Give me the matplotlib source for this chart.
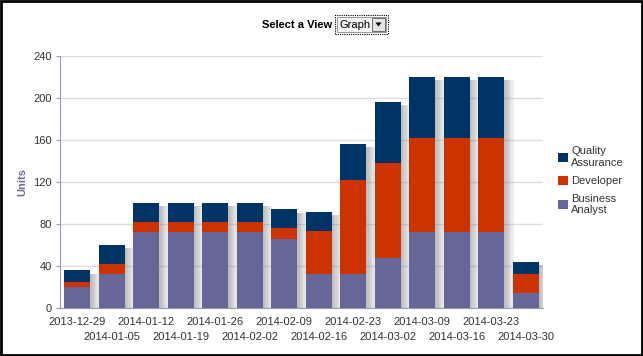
import matplotlib.pyplot as plt
import numpy as np
from matplotlib.patches import Rectangle, Polygon

plt.rcParams['font.family'] = ['Liberation Sans', 'DejaVu Sans']

weeks = ['2013-12-29', '2014-01-05', '2014-01-12', '2014-01-19', '2014-01-26',
         '2014-02-02', '2014-02-09', '2014-02-16', '2014-02-23', '2014-03-02',
         '2014-03-09', '2014-03-16', '2014-03-23', '2014-03-30']
business_analyst = [20, 33, 73, 73, 73, 73, 66, 33, 33, 48, 73, 73, 73, 15]
developer = [5, 9, 9, 9, 9, 9, 10, 41, 89, 90, 89, 89, 89, 18]
quality_assurance = [11, 18, 18, 18, 18, 18, 18, 18, 34, 58, 58, 58, 58, 11]

c_ba = '#666699'
c_dev = '#cc3300'
c_qa = '#003366'

fig = plt.figure(figsize=(6.43, 3.56), dpi=100)
ax = fig.add_axes([0.0933, 0.134, 0.751, 0.7087])

x = np.arange(len(weeks))
ba = np.array(business_analyst)
dev = np.array(developer)
qa = np.array(quality_assurance)
total = ba + dev + qa
w = 0.75

# soft drop shadow on the right of each bar
for i in range(8):
    ax.bar(x + 0.04 + i * 0.035, total - 3, w, color='#707070', alpha=0.07,
           linewidth=0, zorder=1)

ax.bar(x, ba, w, color=c_ba, label='Business\nAnalyst', zorder=3, linewidth=0)
ax.bar(x, dev, w, bottom=ba, color=c_dev, label='Developer', zorder=3, linewidth=0)
ax.bar(x, qa, w, bottom=ba + dev, color=c_qa, label='Quality\nAssurance', zorder=3,
       linewidth=0)

ax.set_xlim(-0.5, len(weeks) - 0.5)
ax.set_ylim(0, 240)
ax.set_yticks(range(0, 241, 40))
ax.grid(axis='y', color='#dcdce6', linewidth=1, zorder=0)
ax.set_axisbelow(True)

# staggered date labels: even weeks on the first row, odd weeks below
ax.set_xticks(x[::2])
ax.set_xticklabels(weeks[::2])
ax.set_xticks(x[1::2], minor=True)
ax.set_xticklabels(weeks[1::2], minor=True)
ax.tick_params(axis='x', which='major', length=0, pad=6, labelsize=8, colors='#333333')
ax.tick_params(axis='x', which='minor', length=0, pad=17, labelsize=8, colors='#333333')
ax.tick_params(axis='y', length=3, pad=3, labelsize=8, colors='#333333',
               color='#9999bb')

for s in ['top', 'right']:
    ax.spines[s].set_visible(False)
ax.spines['left'].set_color('#9999bb')
ax.spines['bottom'].set_color('#9999bb')

ax.set_ylabel('Units', fontsize=8, fontweight='bold', color='#6a6a90', labelpad=4)

handles, labels = ax.get_legend_handles_labels()
ax.legend(handles[::-1], labels[::-1], loc='center left', bbox_to_anchor=(1.01, 0.505),
          frameon=False, fontsize=8, handlelength=0.9, handleheight=0.9,
          handletextpad=0.3, labelspacing=0.7, labelcolor='#333333')

# header: "Select a View" with a dropdown box
ty = 1 - 24.5 / 356
fig.text(332 / 643, ty, 'Select a View', ha='right', va='center', fontsize=8,
         fontweight='bold', color='black')
fig.patches.append(Rectangle((335 / 643, 1 - 34 / 356), 53 / 643, 19 / 356,
                             transform=fig.transFigure, fill=False, ec='black',
                             lw=0.8, ls=(0, (1, 1))))
fig.patches.append(Rectangle((337 / 643, 1 - 32 / 356), 49 / 643, 15 / 356,
                             transform=fig.transFigure, fc='#f4f4f4', ec='#888888',
                             lw=0.6))
fig.text(339 / 643, ty, 'Graph', ha='left', va='center', fontsize=8, color='black')
fig.patches.append(Rectangle((372 / 643, 1 - 31 / 356), 13 / 643, 13 / 356,
                             transform=fig.transFigure, fc='#e4e4e4', ec='#555555',
                             lw=0.6))
fig.patches.append(Polygon([(375.5 / 643, 1 - 22.5 / 356), (381.5 / 643, 1 - 22.5 / 356),
                            (378.5 / 643, 1 - 26.5 / 356)], closed=True,
                           transform=fig.transFigure, fc='black', ec='none'))

# outer frame
fig.patches.append(Rectangle((0.001, 0.003), 0.997, 0.995, transform=fig.transFigure,
                             fill=False, ec='black', lw=2))

fig.savefig('out.png', dpi=100)
